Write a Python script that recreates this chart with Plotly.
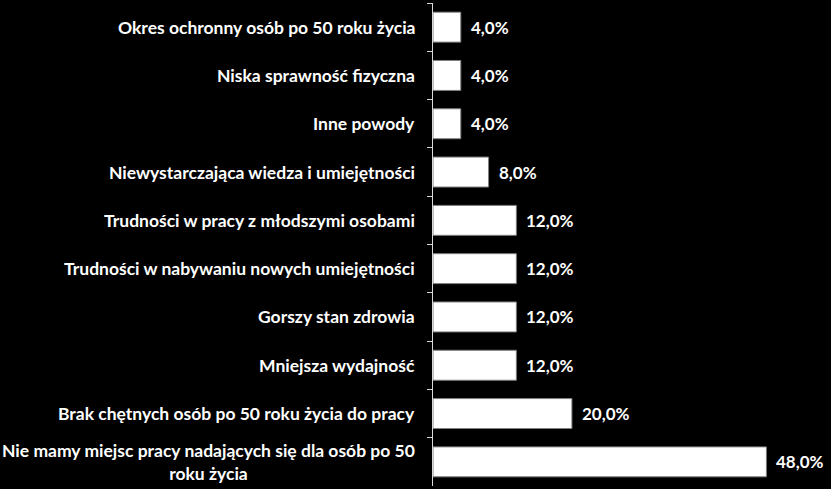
import plotly.graph_objects as go

# categories from top to bottom, as in the picture
categories = [
    "Okres ochronny osób po 50 roku życia",
    "Niska sprawność fizyczna",
    "Inne powody",
    "Niewystarczająca wiedza i umiejętności",
    "Trudności w pracy z młodszymi osobami",
    "Trudności w nabywaniu nowych umiejętności",
    "Gorszy stan zdrowia",
    "Mniejsza wydajność",
    "Brak chętnych osób po 50 roku życia do pracy",
    "Nie mamy miejsc pracy nadających się dla osób po 50<br>roku życia",
]
values = [4.0, 4.0, 4.0, 8.0, 12.0, 12.0, 12.0, 12.0, 20.0, 48.0]

font_family = "Lato, 'Open Sans', sans-serif"

fig = go.Figure()
fig.add_trace(go.Bar(
    x=values,
    y=categories,
    orientation="h",
    marker=dict(color="white", line=dict(color="#7f7f7f", width=1)),
    hoverinfo="skip",
))

annotations = []
for cat, val in zip(categories, values):
    # category label left of the axis
    annotations.append(dict(
        x=0, y=cat, xref="x", yref="y", text="<b>%s</b>" % cat,
        xanchor="right", yanchor="middle", align="center", xshift=-16,
        showarrow=False, font=dict(family=font_family, size=17.5, color="white"),
    ))
    # value label at the end of the bar
    annotations.append(dict(
        x=val, y=cat, xref="x", yref="y",
        text="<b>%s%%</b>" % ("%.1f" % val).replace(".", ","),
        xanchor="left", yanchor="middle", xshift=8,
        showarrow=False, font=dict(family=font_family, size=17, color="white"),
    ))

fig.update_layout(
    width=831, height=489,
    paper_bgcolor="black", plot_bgcolor="black",
    margin=dict(l=433, r=0, t=3, b=3),
    bargap=0.38,
    showlegend=False,
    annotations=annotations,
    xaxis=dict(range=[0, 57.3], visible=False, fixedrange=True),
    yaxis=dict(
        autorange="reversed", type="category", automargin=False, fixedrange=True,
        showticklabels=False, showgrid=False, zeroline=False,
        showline=True, linecolor="#d9d9d9", linewidth=1,
        ticks="outside", tickson="boundaries", ticklen=5, tickcolor="#d9d9d9",
    ),
)

# page body has a default margin; remove it so the figure fills the window
fig.write_html("out.html", config={"displayModeBar": False},
               post_script="document.body.style.margin='0';document.body.style.background='black';")
